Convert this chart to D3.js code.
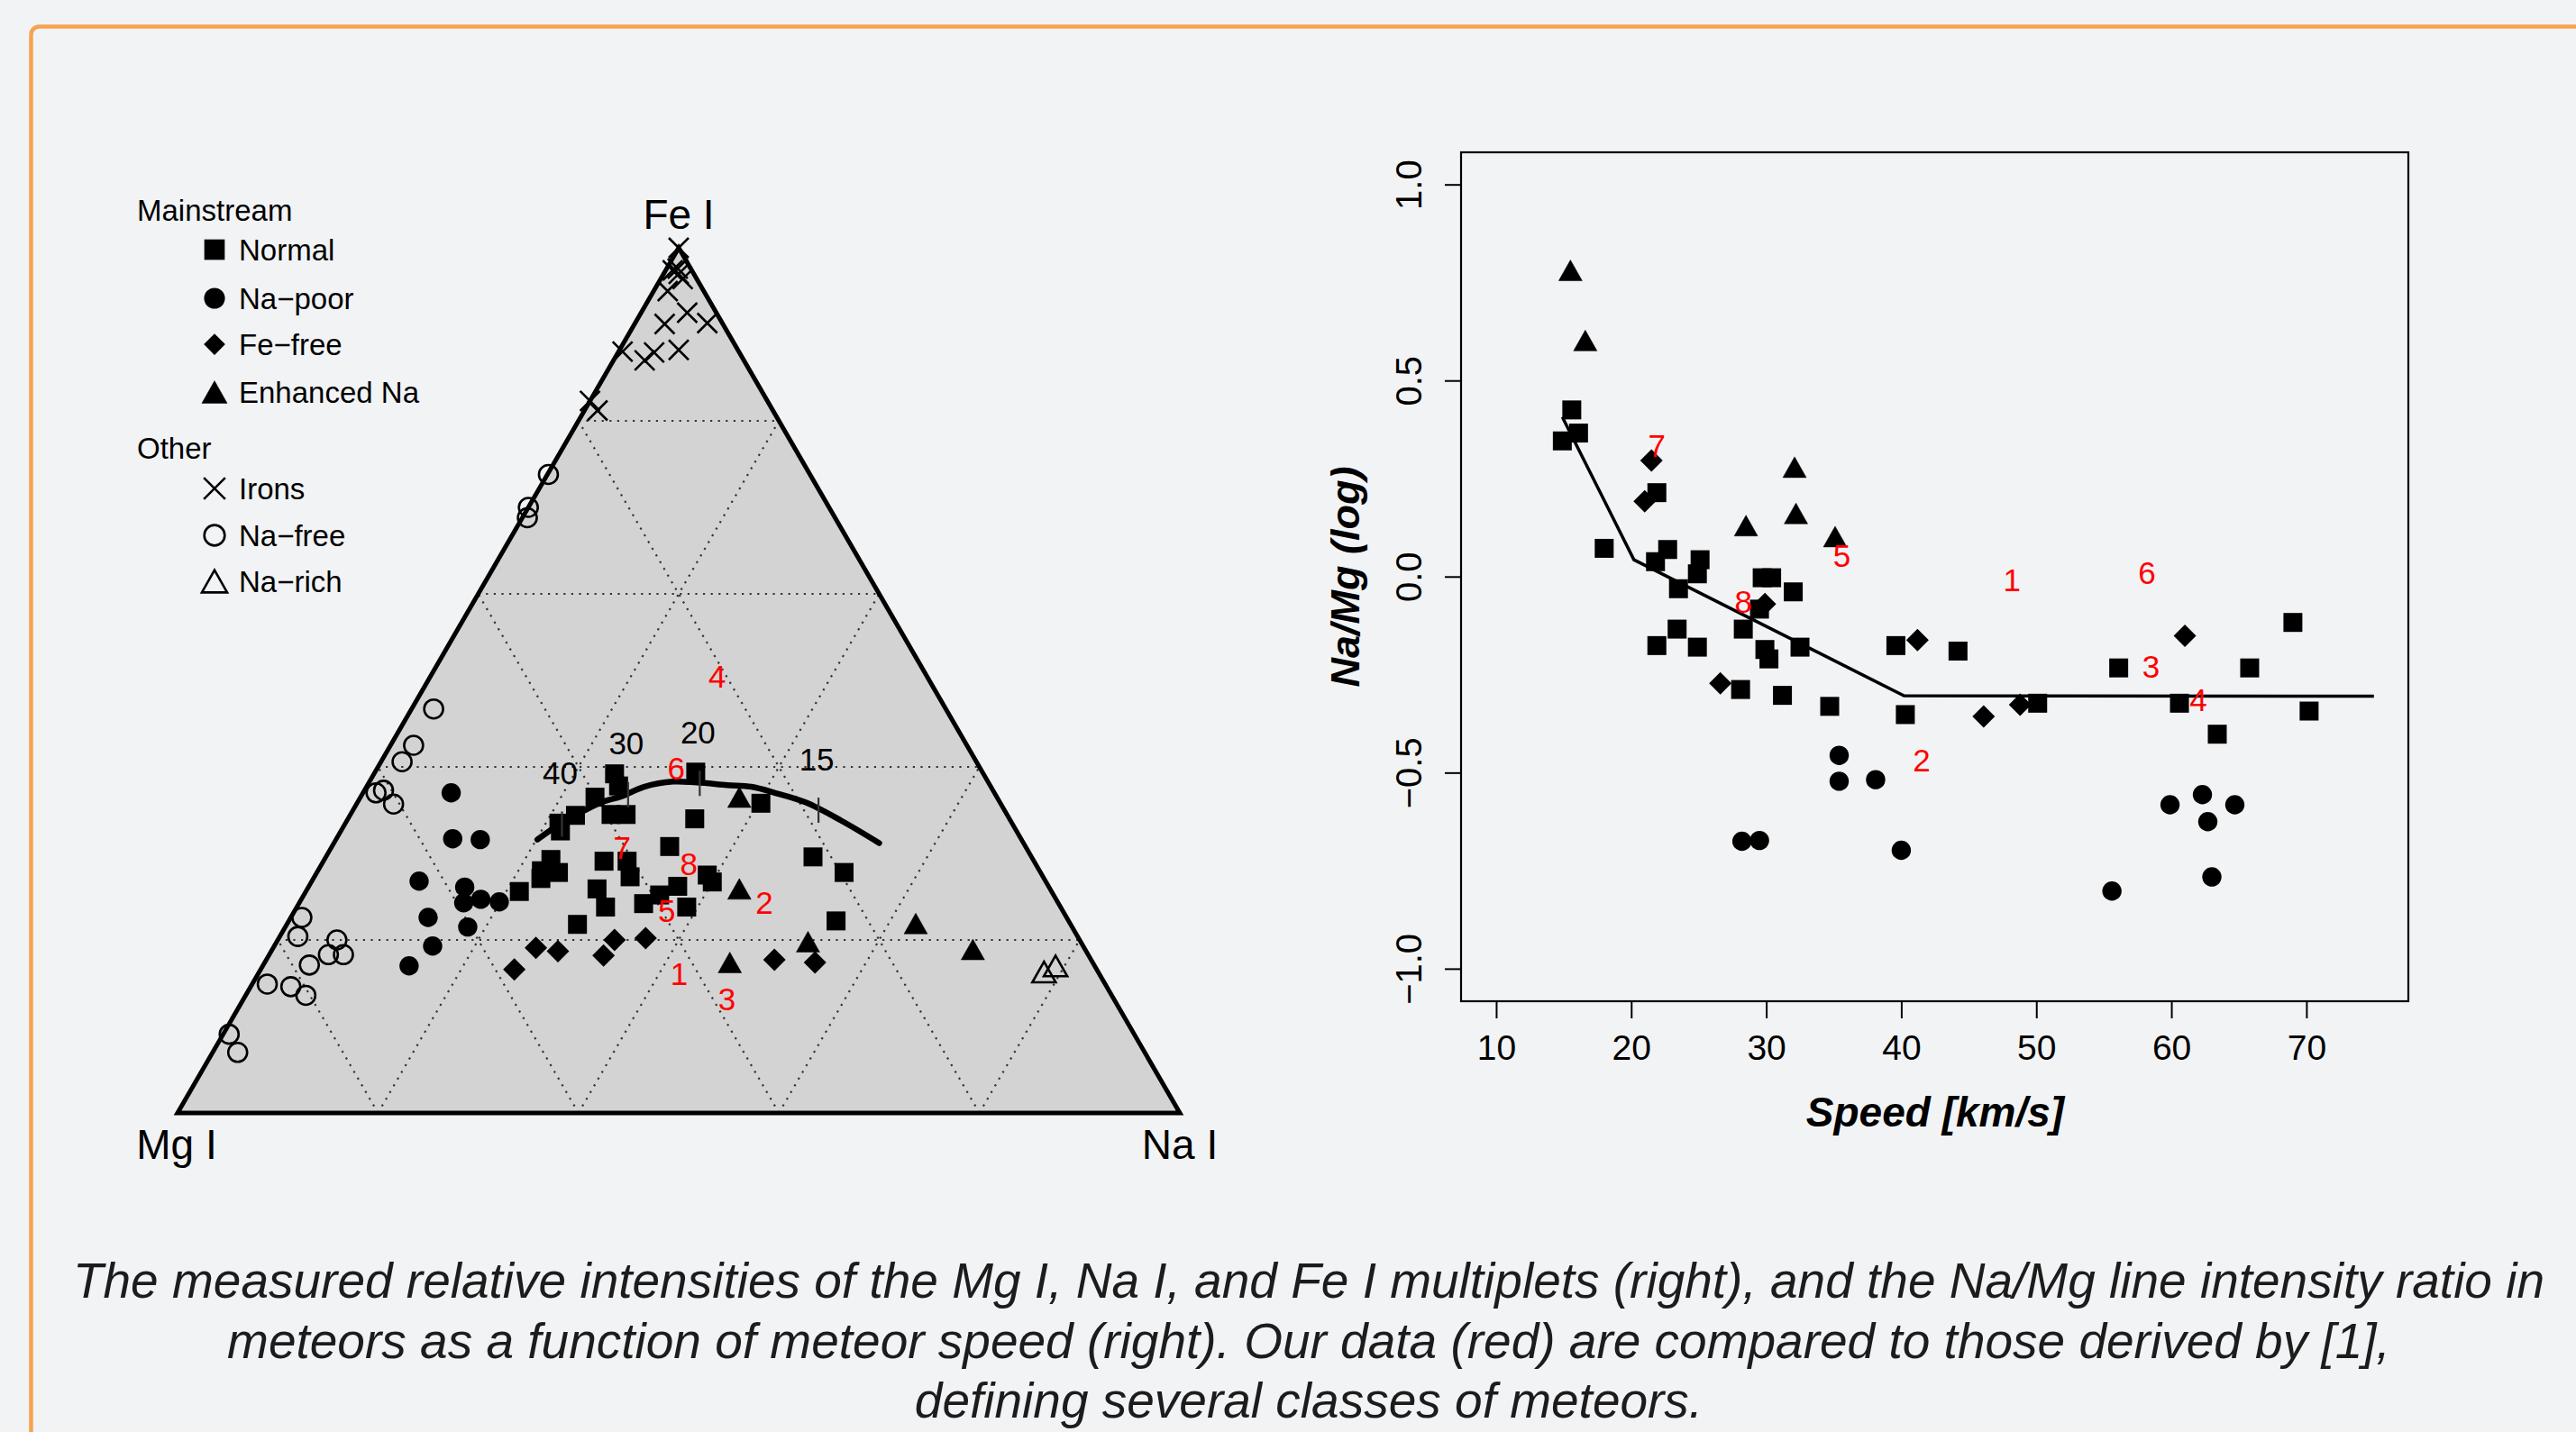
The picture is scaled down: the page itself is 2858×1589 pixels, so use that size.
<!DOCTYPE html>
<html>
<head>
<meta charset="utf-8">
<script src="https://cdn.jsdelivr.net/npm/d3@7/dist/d3.min.js"></script>
<style>
  html, body { margin: 0; padding: 0; background: #f2f3f5; }
  svg text { font-family: "Liberation Sans", Arial, Helvetica, sans-serif; }
</style>
</head>
<body>
<svg class="chart" width="2858" height="1589"></svg>
<script>
// ---------- ternary data, [Mg I, Na I, Fe I] in % ----------
const ternNormal = [
  [36.8,24.0,39.2],[37.1,25.1,37.8],[40.1,23.4,36.5],[28.6,32.0,39.4],[23.9,40.3,35.8],
  [43.1,22.5,34.4],[45.2,21.3,33.5],[45.5,21.9,32.6],[39.5,26.0,34.5],[38.0,27.5,34.5],
  [31.4,34.6,34.0],[35.5,33.7,30.8],[48.1,22.6,29.3],[49.7,22.3,28.0],[48.1,24.1,27.8],
  [50.2,22.7,27.1],[42.9,28.0,29.1],[40.6,30.3,29.1],[41.2,31.5,27.3],[33.4,39.1,27.5],
  [33.3,40.0,26.7],[53.1,21.3,25.6],[45.2,28.9,25.9],[45.4,30.8,23.8],[41.4,34.4,24.2],
  [39.3,35.5,25.2],[37.0,36.8,26.2],[37.3,38.9,23.8],[49.2,29.0,21.8],[21.8,48.6,29.6],
  [19.6,52.6,27.8],[23.2,54.6,22.2]
];
const ternNaPoor = [
  [54.2,8.8,37.0],[56.7,11.6,31.7],[54.0,14.4,31.6],[62.5,10.7,26.8],[58.3,15.6,26.1],
  [59.3,16.4,24.3],[57.4,17.9,24.7],[55.7,19.9,24.4],[63.7,13.7,22.6],[60.3,18.2,21.5],
  [64.9,15.8,19.3],[68.4,14.6,17.0]
];
const ternFeFree = [
  [58.1,25.3,16.6],[54.7,26.2,19.1],[52.7,28.6,18.7],[48.4,33.4,18.2],
  [46.4,33.6,20.0],[43.2,36.6,20.2],[31.6,50.7,17.7],[27.7,54.9,17.4]
];
const ternEnhancedNa = [
  [25.7,37.8,36.5],[31.0,43.1,25.9],[36.2,46.4,17.4],[27.2,53.0,19.8],[15.4,62.7,21.9],[11.2,69.9,18.9]
];
const ternIrons = [
  [0,0,100],[1.9,0.7,97.4],[1.5,1.5,97.0],[1.4,2.2,96.4],[1.3,1.1,97.6],[3.6,1.4,95.0],
  [2.9,4.6,92.5],[5.8,3.0,91.2],[1.5,7.2,91.3],[11.6,0.4,88.0],[9.9,3.1,87.0],[8.5,3.6,87.9],
  [5.9,5.9,88.2],[17.7,0,82.3],[17.5,1.3,81.2]
];
const ternNaFree = [
  [51.1,2.2,46.7],[55.2,2.3,42.5],[57.3,2.1,40.6],[60.8,1.9,37.3],[61.7,1.3,37.0],[60.6,3.7,35.7],
  [76.3,1.1,22.6],[77.8,1.8,20.4],[74.1,5.9,20.0],[75.8,5.9,18.3],[74.3,7.4,18.3],[78.3,4.6,17.1],
  [83.6,1.5,14.9],[81.4,4.0,14.6],[80.4,6.0,13.6],[90.3,0.6,9.1],[90.5,2.5,7.0],
  [26.1,0.1,73.8],[30.0,0.0,70.0],[30.7,0.5,68.8]
];
const ternNaRich = [[5.4,78.3,16.3],[3.9,79.1,17.0]];

// model track with speed marks (km/s)
const meteorTrack = [
  [48.3,20.1,31.6],[45.7,21.2,33.1],[42.9,22.6,34.5],[39.8,24.3,35.9],[37.4,26.0,36.6],
  [34.6,27.7,37.7],[31.4,30.3,38.3],[29.1,32.7,38.2],[26.2,35.9,37.9],[23.9,38.4,37.7],
  [21.9,41.1,37.0],[19.4,44.7,35.9],[16.9,49.3,33.8],[14.4,54.4,31.2]
];
const trackSpeeds = [40, 30, 20, 15];
const trackSpeedPos = [[44.9,21.6,33.5],[36.6,26.5,36.9],[28.8,33.0,38.2],[18.5,46.4,35.1]];

// our meteors (red)
const ourLabels = ["1","2","3","4","5","6","7","8"];
const ourTern = [
  [41.9,42.0,16.1],[29.3,46.4,24.3],[38.6,48.2,13.2],[20.9,28.6,50.5],
  [39.5,37.1,23.4],[30.3,29.8,39.9],[40.3,29.0,30.7],[34.6,36.6,28.8]
];

// ---------- speed vs Na/Mg data ----------
const speedNormal = [15.6,16.1,14.9,18.0,21.9,22.7,21.8,25.1,24.9,23.5,29.7,30.4,32.0,23.4,21.9,24.9,28.3,
  29.5,29.9,30.2,32.5,28.1,31.2,34.7,39.6,40.3,44.2,50.1,56.1,60.6,63.4,65.8,69.0,70.2];
const ratioNormal = [0.425,0.366,0.346,0.072,0.214,0.069,0.038,0.043,0.007,-0.031,-0.003,-0.003,-0.039,
  -0.134,-0.176,-0.180,-0.134,-0.083,-0.186,-0.210,-0.180,-0.288,-0.303,-0.331,-0.176,-0.352,-0.190,
  -0.323,-0.233,-0.323,-0.402,-0.233,-0.117,-0.343];
const speedNaPoor = [35.4,35.4,38.1,28.2,29.5,40.0,55.6,59.9,62.3,64.7,62.7,63.0];
const ratioNaPoor = [-0.456,-0.522,-0.518,-0.675,-0.673,-0.698,-0.802,-0.582,-0.556,-0.582,-0.625,-0.766];
const speedFeFree = [21.5,21.0,29.9,26.6,41.2,46.1,48.8,61.0];
const ratioFeFree = [0.296,0.192,-0.070,-0.272,-0.162,-0.357,-0.327,-0.151];
const speedEnhNa = [15.5,16.6,28.5,32.1,32.2,35.1];
const ratioEnhNa = [0.781,0.602,0.130,0.279,0.161,0.102];

const trendSpeed = [14.9, 20.2, 40.2, 75.0];
const trendRatio = [0.407, 0.043, -0.304, -0.305];

const ourSpeed = [48.2,41.5,58.5,62.0,35.6,58.2,21.9,28.3];
const ourRatio = [-0.008,-0.467,-0.228,-0.313,0.053,0.010,0.335,-0.063];

const speedTicks = [10,20,30,40,50,60,70];
const ratioTicks = [-1.0,-0.5,0.0,0.5,1.0];

const caption = [
  "The measured relative intensities of the Mg I, Na I, and Fe I multiplets (right), and the Na/Mg line intensity ratio in",
  "meteors as a function of meteor speed (right). Our data (red) are compared to those derived by [1],",
  "defining several classes of meteors."
];

const svg = d3.select(".chart");

// page frame
svg.append("rect").attr("width", 2858).attr("height", 1589).attr("fill", "#f2f3f5");
svg.append("rect")
  .attr("x", 34.5).attr("y", 29.5).attr("width", 3000).attr("height", 2000).attr("rx", 9)
  .attr("fill", "none").attr("stroke", "#f7a24f").attr("stroke-width", 4.5);

// marker shapes, drawn like R's pch 15-18, 4, 1, 2
function marker(g, type, x, y, k = 1) {
  const s = 10.5 * k;
  if (type === "square") {
    g.append("rect").attr("x", x - s).attr("y", y - s).attr("width", 2 * s).attr("height", 2 * s).attr("fill", "#000");
  } else if (type === "circle") {
    g.append("circle").attr("cx", x).attr("cy", y).attr("r", 10.7 * k).attr("fill", "#000");
  } else if (type === "diamond") {
    const d = 12.5 * k;
    g.append("path").attr("d", `M${x},${y - d}L${x + d},${y}L${x},${y + d}L${x - d},${y}Z`).attr("fill", "#000");
  } else if (type === "triangle" || type === "otriangle") {
    const w = 13 * k, h = 11.5 * k;
    g.append("path").attr("d", `M${x},${y - h}L${x + w},${y + h}L${x - w},${y + h}Z`)
      .attr("fill", type === "triangle" ? "#000" : "none")
      .attr("stroke", "#000").attr("stroke-width", type === "triangle" ? 0.5 : 2.6).attr("stroke-linejoin", "miter");
  } else if (type === "cross") {
    const c = 11 * k;
    g.append("path").attr("d", `M${x - c},${y - c}L${x + c},${y + c}M${x - c},${y + c}L${x + c},${y - c}`)
      .attr("stroke", "#000").attr("stroke-width", 2.6).attr("fill", "none");
  } else if (type === "ocircle") {
    g.append("circle").attr("cx", x).attr("cy", y).attr("r", 10.5 * k)
      .attr("fill", "none").attr("stroke", "#000").attr("stroke-width", 2.6);
  }
}

// ================= LEFT: ternary diagram =================
const tx = d3.scaleLinear().domain([0, 100]).range([197, 1309]);
const ty = d3.scaleLinear().domain([0, 100]).range([1235, 275]);
function tern(d) {
  const sum = d[0] + d[1] + d[2];
  const na = d[1] / sum * 100, fe = d[2] / sum * 100;
  return [tx(na + fe / 2), ty(fe)];
}

const left = svg.append("g");

left.append("path")
  .attr("d", d3.line()([[100,0,0],[0,100,0],[0,0,100]].map(tern)) + "Z")
  .attr("fill", "#d3d3d3");

// dotted grid every 20 %
const gridSteps = [20, 40, 60, 80];
const gridLines = [];
gridSteps.forEach(k => {
  gridLines.push([[100 - k, 0, k], [0, 100 - k, k]]);
  gridLines.push([[100 - k, k, 0], [0, k, 100 - k]]);
  gridLines.push([[k, 100 - k, 0], [k, 0, 100 - k]]);
});
left.append("g").selectAll("path")
  .data(gridLines)
  .enter().append("path")
  .attr("d", d => d3.line()(d.map(tern)))
  .attr("stroke", "#333").attr("stroke-width", 2.2)
  .attr("stroke-dasharray", "2.2,6.4").attr("fill", "none");

left.append("path")
  .attr("d", d3.line()([[100,0,0],[0,100,0],[0,0,100]].map(tern)) + "Z")
  .attr("fill", "none").attr("stroke", "#000").attr("stroke-width", 5).attr("stroke-linejoin", "miter");

// vertex names
left.append("text").attr("x", tern([0,0,100])[0]).attr("y", 254).attr("text-anchor", "middle")
  .attr("font-size", 46).text("Fe I");
left.append("text").attr("x", tern([100,0,0])[0] - 1).attr("y", 1286).attr("text-anchor", "middle")
  .attr("font-size", 46).text("Mg I");
left.append("text").attr("x", tern([0,100,0])[0]).attr("y", 1286).attr("text-anchor", "middle")
  .attr("font-size", 46).text("Na I");

// points
const ternSets = [
  [ternNaFree, "ocircle"], [ternIrons, "cross"], [ternNaRich, "otriangle"],
  [ternNaPoor, "circle"], [ternFeFree, "diamond"], [ternEnhancedNa, "triangle"], [ternNormal, "square"]
];
const pts = left.append("g");
ternSets.forEach(([data, type]) => {
  data.forEach(d => { const p = tern(d); marker(pts, type, p[0], p[1]); });
});

// model track
left.append("path")
  .attr("d", d3.line().curve(d3.curveCatmullRom)(meteorTrack.map(tern)))
  .attr("fill", "none").attr("stroke", "#000").attr("stroke-width", 6.5).attr("stroke-linecap", "round");

trackSpeedPos.forEach((d, i) => {
  const p = tern(d);
  left.append("line").attr("x1", p[0]).attr("x2", p[0]).attr("y1", p[1] - 13).attr("y2", p[1] + 15)
    .attr("stroke", "#333").attr("stroke-width", 2.2);
  left.append("text").attr("x", p[0] - 2).attr("y", p[1] - 56).attr("dy", "0.36em")
    .attr("text-anchor", "middle").attr("font-size", 35).text(trackSpeeds[i]);
});

ourTern.forEach((d, i) => {
  const p = tern(d);
  left.append("text").attr("x", p[0]).attr("y", p[1]).attr("dy", "0.36em")
    .attr("text-anchor", "middle").attr("font-size", 35).attr("fill", "#ff0000").text(ourLabels[i]);
});

// legend
const legendRows = [
  { title: "Mainstream", y: 233 },
  { label: "Normal", type: "square", y: 277 },
  { label: "Na\u2212poor", type: "circle", y: 331 },
  { label: "Fe\u2212free", type: "diamond", y: 382 },
  { label: "Enhanced Na", type: "triangle", y: 435 },
  { title: "Other", y: 497 },
  { label: "Irons", type: "cross", y: 542 },
  { label: "Na\u2212free", type: "ocircle", y: 594 },
  { label: "Na\u2212rich", type: "otriangle", y: 645 }
];
const legend = svg.append("g");
legendRows.forEach(r => {
  if (r.title) {
    legend.append("text").attr("x", 152).attr("y", r.y).attr("dy", "0.36em").attr("font-size", 33).text(r.title);
  } else {
    marker(legend, r.type, 238, r.y, r.type === "diamond" ? 0.95 : 1.08);
    legend.append("text").attr("x", 265).attr("y", r.y).attr("dy", "0.36em").attr("font-size", 33).text(r.label);
  }
});

// ================= RIGHT: Na/Mg vs speed =================
const sx = d3.scaleLinear().domain([7.4, 77.55]).range([1621, 2672]);
const sy = d3.scaleLinear().domain([-1.083, 1.082]).range([1111, 169]);

const right = svg.append("g");

const xAxis = right.append("g")
  .attr("transform", "translate(0,1111)")
  .call(d3.axisBottom(sx).tickValues(speedTicks).tickSize(19).tickSizeOuter(0).tickPadding(18));
xAxis.selectAll("text").attr("font-size", 39).attr("fill", "#000").attr("font-family", "Liberation Sans, Arial, sans-serif");

const yAxis = right.append("g")
  .attr("transform", "translate(1621,0)")
  .call(d3.axisLeft(sy).tickValues(ratioTicks).tickSize(18).tickSizeOuter(0).tickFormat(d3.format(".1f")));
yAxis.selectAll("text")
  .attr("transform", "rotate(-90)").attr("x", 0).attr("y", -58).attr("dy", "0.36em")
  .attr("text-anchor", "middle").attr("font-size", 40).attr("fill", "#000")
  .attr("font-family", "Liberation Sans, Arial, sans-serif");
right.selectAll(".tick line").attr("stroke", "#000").attr("stroke-width", 2);
right.selectAll(".domain").remove();

right.append("rect").attr("x", sx.range()[0]).attr("y", sy.range()[1])
  .attr("width", sx.range()[1] - sx.range()[0]).attr("height", sy.range()[0] - sy.range()[1])
  .attr("fill", "none").attr("stroke", "#000").attr("stroke-width", 2.2);

right.append("text").attr("transform", "translate(1492,640) rotate(-90)")
  .attr("text-anchor", "middle").attr("dy", "0.36em")
  .attr("font-size", 45).attr("font-weight", "bold").attr("font-style", "italic").text("Na/Mg (log)");
right.append("text").attr("x", 2147).attr("y", 1250)
  .attr("text-anchor", "middle")
  .attr("font-size", 46).attr("font-weight", "bold").attr("font-style", "italic").text("Speed [km/s]");

// trend line
right.append("path")
  .attr("d", d3.line().x((d, i) => sx(d)).y((d, i) => sy(trendRatio[i]))(trendSpeed))
  .attr("fill", "none").attr("stroke", "#000").attr("stroke-width", 3.5);

const scatterSets = [
  [speedNaPoor, ratioNaPoor, "circle"],
  [speedFeFree, ratioFeFree, "diamond"],
  [speedEnhNa, ratioEnhNa, "triangle"],
  [speedNormal, ratioNormal, "square"]
];
const dots = right.append("g");
scatterSets.forEach(([xs, ys, type]) => {
  xs.forEach((v, i) => marker(dots, type, sx(v), sy(ys[i])));
});

ourSpeed.forEach((v, i) => {
  right.append("text").attr("x", sx(v)).attr("y", sy(ourRatio[i])).attr("dy", "0.36em")
    .attr("text-anchor", "middle").attr("font-size", 35).attr("fill", "#ff0000").text(ourLabels[i]);
});

// ================= caption =================
svg.append("g").selectAll("text")
  .data(caption)
  .enter().append("text")
  .attr("x", 1452)
  .attr("y", (d, i) => 1440 + i * 66.5)
  .attr("text-anchor", "middle")
  .attr("font-size", 55).attr("font-style", "italic").attr("fill", "#1c1c1c")
  .text(d => d);
</script>
</body>
</html>
